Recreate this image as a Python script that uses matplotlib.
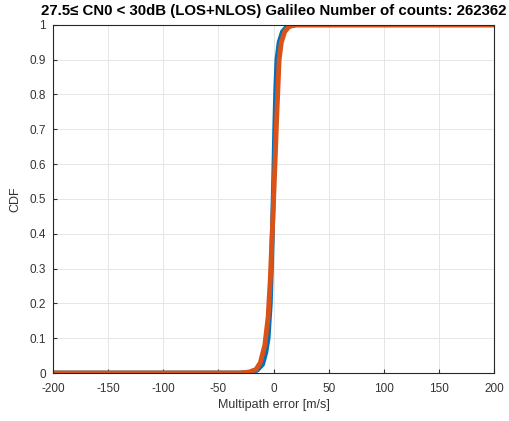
import numpy as np
import matplotlib.pyplot as plt

plt.rcParams['font.family'] = ['Liberation Sans', 'DejaVu Sans']
plt.rcParams['axes.unicode_minus'] = False

blue_x = [-200, -30, -20, -15, -10, -7, -5, -3, -2, -1, 0, 1, 2, 3, 5, 8, 12, 20, 200]
blue_cdf = [0, 0, 0.002, 0.008, 0.025, 0.06, 0.1, 0.2, 0.3, 0.42, 0.55, 0.7, 0.82, 0.9, 0.95, 0.98, 0.995, 1.0, 1.0]
orange_x = [-200, -30, -22, -16, -12, -8, -5, -3, -1, 0, 1, 3, 5, 7, 10, 14, 20, 200]
orange_cdf = [0, 0, 0.003, 0.01, 0.03, 0.08, 0.16, 0.27, 0.42, 0.5, 0.58, 0.75, 0.9, 0.95, 0.98, 0.995, 1.0, 1.0]

x_ticks = [-200, -150, -100, -50, 0, 50, 100, 150, 200]
y_ticks = [0, 0.1, 0.2, 0.3, 0.4, 0.5, 0.6, 0.7, 0.8, 0.9, 1]

fig = plt.figure(figsize=(5.1, 4.21), dpi=100)
ax = fig.add_axes([0.104, 0.114, 0.865, 0.827])

ax.plot(blue_x, blue_cdf, color='#0072BD', linewidth=3.5)
ax.plot(orange_x, orange_cdf, color='#D95319', linewidth=3.5)

ax.set_xlim(-200, 200)
ax.set_ylim(0, 1)
ax.set_xticks(x_ticks)
ax.set_yticks(y_ticks)
ax.set_yticklabels(['0', '0.1', '0.2', '0.3', '0.4', '0.5', '0.6', '0.7', '0.8', '0.9', '1'])
ax.tick_params(direction='in', labelsize=8.5, colors='#333333', length=3)
ax.tick_params(axis='x', pad=7)
ax.tick_params(axis='y', pad=5)
ax.grid(True, color='#e6e6e6', linewidth=0.7)
for s in ax.spines.values():
    s.set_color('#262626')
    s.set_linewidth(0.8)

ax.set_xlabel('Multipath error [m/s]', fontsize=9, color='#333333', labelpad=3)
ax.set_ylabel('CDF', fontsize=9, color='#333333', labelpad=6)
ax.set_title('27.5\u2264 CN0 < 30dB (LOS+NLOS) Galileo Number of counts: 262362',
             fontsize=10.8, fontweight='bold', pad=7)

fig.savefig('out.png', dpi=100)
